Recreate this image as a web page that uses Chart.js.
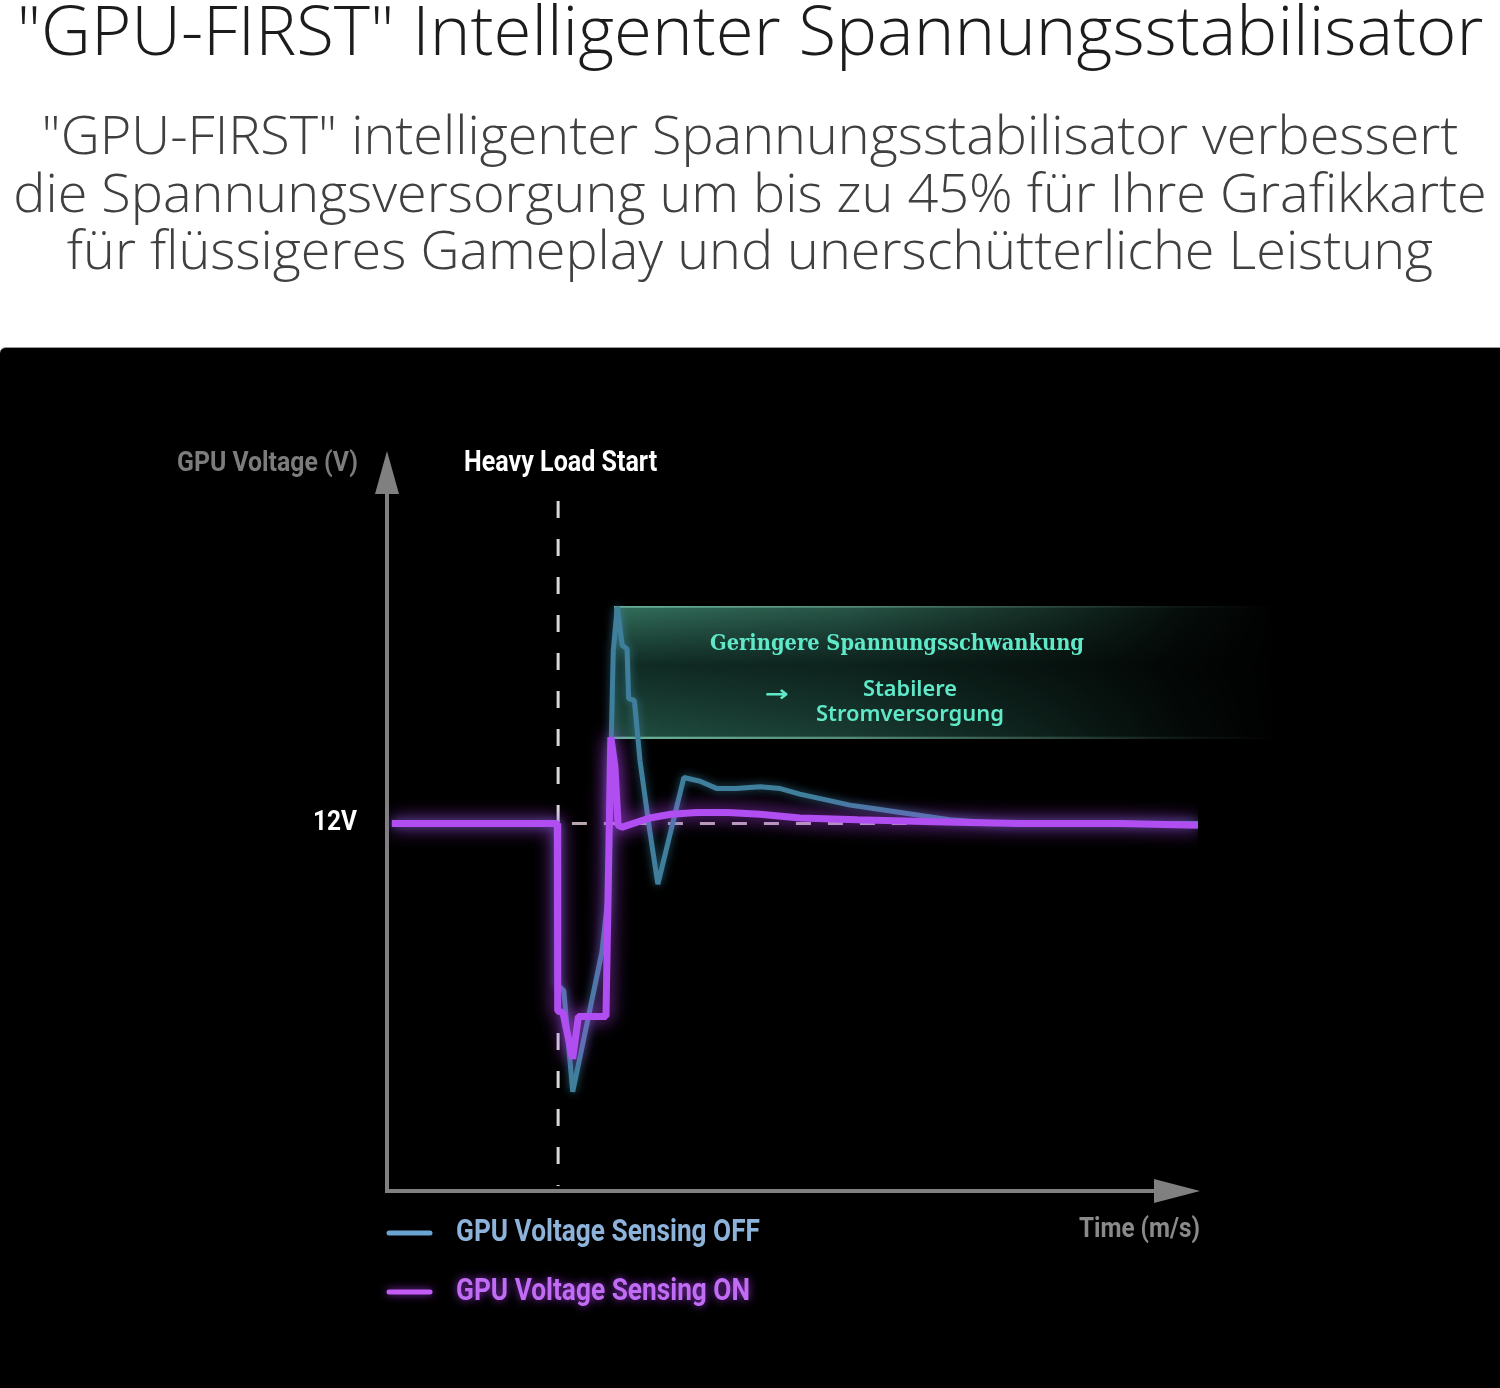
<!DOCTYPE html>
<html>
<head>
<meta charset="utf-8">
<script src="https://cdn.jsdelivr.net/npm/chart.js@4.4.1/dist/chart.umd.min.js"></script>
<style>
  html, body { margin: 0; padding: 0; background: #fff; width: 1500px; height: 1388px; overflow: hidden; }
  #title { position: absolute; left: 0; top: -6px; width: 1500px; text-align: center;
           font-family: "Open Sans", "Noto Sans", sans-serif; font-weight: 300; font-size: 69px;
           line-height: 1; color: #1c1c1c; white-space: nowrap; }
  #subtitle { position: absolute; left: 0; top: 105px; width: 1500px; text-align: center;
           font-family: "Open Sans", "Noto Sans", sans-serif; font-weight: 300; font-size: 54px;
           line-height: 57.5px; color: #404040; white-space: nowrap; }
  #panel { position: absolute; left: 0; top: 347px; width: 1500px; height: 1041px; background: #000;
           border-top: 1px solid #9a9a9a; box-sizing: border-box; border-top-left-radius: 6px; }
  #chart { position: absolute; left: 0; top: 0; }
</style>
</head>
<body>
<div id="title">"GPU-FIRST" Intelligenter Spannungsstabilisator</div>
<div id="subtitle">"GPU-FIRST" intelligenter Spannungsstabilisator verbessert<br>die Spannungsversorgung um bis zu 45% für Ihre Grafikkarte<br>für flüssigeres Gameplay und unerschütterliche Leistung</div>
<div id="panel"><canvas id="chart" width="1500" height="1040"></canvas></div>
<script>
// ---------- DATA ----------
const seriesLabels = ['GPU Voltage Sensing OFF', 'GPU Voltage Sensing ON'];
const timeOff = [0.6, 21.0, 21.05, 21.8, 22.9, 26.5, 27.2, 27.9, 28.4, 29.0, 29.6, 29.8, 30.5, 31.2, 32.4, 33.4, 36.6, 38.6, 40.7, 43.0, 46.0, 48.5, 50.9, 54.0, 57.1, 60.2, 63.3, 66.4, 69.4, 75.6, 100];
const voltOff = [12.0, 12.0, 11.12, 11.09, 10.54, 11.30, 11.58, 12.94, 13.18, 12.97, 12.95, 12.68, 12.67, 12.34, 11.96, 11.67, 12.25, 12.23, 12.19, 12.19, 12.20, 12.19, 12.16, 12.13, 12.10, 12.08, 12.06, 12.04, 12.02, 12.0, 12.0];
const timeOn = [0.6, 21.0, 21.05, 21.7, 22.9, 23.6, 27.0, 27.6, 28.1, 28.5, 29.0, 32.4, 35.0, 38.2, 42.0, 46.0, 50.9, 58.0, 67.3, 78.0, 90.4, 100];
const voltOn = [12.0, 12.0, 10.98, 10.97, 10.72, 10.95, 10.95, 12.47, 12.31, 11.99, 11.98, 12.03, 12.05, 12.06, 12.06, 12.05, 12.03, 12.02, 12.01, 12.0, 12.0, 11.99];
const nominalVoltage = 12;
const loadStartTime = 21.1;
const yTickLabels = ['12V'];
const yAxisTitle = 'GPU Voltage (V)';
const xAxisTitle = 'Time (m/s)';
const loadStartLabel = 'Heavy Load Start';
const boxTitle = 'Geringere Spannungsschwankung';
const boxLines = ['Stabilere', 'Stromversorgung'];

// ---------- HELPERS ----------
function fitText(ctx, text, x, y, font, color, targetW, align, glow) {
  ctx.save();
  ctx.font = font;
  ctx.fillStyle = color;
  ctx.textBaseline = 'middle';
  ctx.textAlign = 'left';
  const w = ctx.measureText(text).width;
  const sx = targetW / w;
  let x0 = x;
  if (align === 'right') x0 = x - targetW;
  else if (align === 'center') x0 = x - targetW / 2;
  if (glow) { ctx.shadowColor = glow; ctx.shadowBlur = 8; }
  ctx.translate(x0, y);
  ctx.scale(sx, 1);
  ctx.fillText(text, 0, 0);
  ctx.restore();
}

const colors = {
  off: '#3f7f9c', offGlow: 'rgba(70,150,190,0.6)', offLegend: '#6aa4d2', offText: '#8db3da',
  on: '#b14ef2', onGlow: 'rgba(190,70,255,0.95)', onText: '#c06cf3'
};

function drawBox(ctx, bx, by1, bxr, by2) {
  const w = Math.ceil(bxr - bx), h = Math.ceil(by2 - by1) + 2;
  const off = document.createElement('canvas');
  off.width = w; off.height = h;
  const o = off.getContext('2d');
  // vertical colour profile
  const gv = o.createLinearGradient(0, 0, 0, h);
  gv.addColorStop(0, 'rgba(60,130,108,0.95)');
  gv.addColorStop(0.45, 'rgba(22,58,48,0.85)');
  gv.addColorStop(1, 'rgba(40,96,80,0.9)');
  o.fillStyle = gv;
  o.fillRect(0, 1, w, h - 2);
  // border lines
  o.fillStyle = 'rgba(120,200,170,1)';
  o.fillRect(0, 0, w, 2);
  o.fillRect(0, h - 2, w, 2);
  // horizontal fade mask
  o.globalCompositeOperation = 'destination-in';
  const gm = o.createLinearGradient(0, 0, w, 0);
  gm.addColorStop(0, 'rgba(0,0,0,0.9)');
  gm.addColorStop(0.35, 'rgba(0,0,0,0.7)');
  gm.addColorStop(0.65, 'rgba(0,0,0,0.38)');
  gm.addColorStop(0.85, 'rgba(0,0,0,0.12)');
  gm.addColorStop(1, 'rgba(0,0,0,0)');
  o.fillStyle = gm;
  o.fillRect(0, 0, w, h);
  ctx.drawImage(off, bx, by1 - 1);
}

const decoPlugin = {
  id: 'deco',
  beforeDatasetsDraw(chart) {
    const { ctx, chartArea: a, scales: { x, y } } = chart;
    ctx.save();
    // annotation box (between peak of OFF and peak of ON)
    const peakOffIdx = voltOff.indexOf(Math.max(...voltOff));
    const bx = x.getPixelForValue(timeOff[peakOffIdx]) - 3;
    const by1 = y.getPixelForValue(Math.max(...voltOff));
    const by2 = y.getPixelForValue(Math.max(...voltOn));
    drawBox(ctx, bx, by1, a.right + 80, by2);

    // vertical dashed "heavy load start"
    const lx = x.getPixelForValue(loadStartTime);
    ctx.strokeStyle = '#d8d8d8';
    ctx.lineWidth = 3;
    ctx.setLineDash([17, 21]);
    ctx.beginPath();
    ctx.moveTo(lx, a.top + 45);
    ctx.lineTo(lx, a.bottom - 5);
    ctx.stroke();
    // horizontal dashed nominal line
    const ny = y.getPixelForValue(nominalVoltage);
    ctx.strokeStyle = '#b8a8b0';
    ctx.setLineDash([15, 17]);
    ctx.beginPath();
    ctx.moveTo(x.getPixelForValue(loadStartTime + 1.7), ny);
    ctx.lineTo(a.right, ny);
    ctx.stroke();
    ctx.setLineDash([]);

    // axes with arrows
    ctx.strokeStyle = '#808080';
    ctx.fillStyle = '#808080';
    ctx.lineWidth = 4;
    ctx.beginPath();
    ctx.moveTo(a.left, a.bottom);
    ctx.lineTo(a.left, a.top + 30);
    ctx.moveTo(a.left - 2, a.bottom);
    ctx.lineTo(a.right - 40, a.bottom);
    ctx.stroke();
    ctx.beginPath();
    ctx.moveTo(a.left, a.top - 5);
    ctx.lineTo(a.left - 12, a.top + 38);
    ctx.lineTo(a.left + 12, a.top + 38);
    ctx.closePath();
    ctx.fill();
    ctx.beginPath();
    ctx.moveTo(a.right + 2, a.bottom);
    ctx.lineTo(a.right - 44, a.bottom - 12);
    ctx.lineTo(a.right - 44, a.bottom + 12);
    ctx.closePath();
    ctx.fill();
    ctx.restore();
  },
  beforeDatasetDraw(chart, args) {
    const ctx = chart.ctx;
    ctx.save();
    ctx.shadowColor = args.index === 0 ? colors.offGlow : colors.onGlow;
    ctx.shadowBlur = args.index === 0 ? 8 : 18;
  },
  afterDatasetDraw(chart) {
    chart.ctx.restore();
  },
  afterDraw(chart) {
    const { ctx, chartArea: a, scales: { x, y } } = chart;
    const cond = '"Roboto", sans-serif';
    // axis texts
    fitText(ctx, yAxisTitle, a.left - 29, a.top + 8, 'bold 28px ' + cond, '#7c7c7c', 181, 'right');
    fitText(ctx, loadStartLabel, x.getPixelForValue(loadStartTime) - 94, a.top + 8, 'bold 29px ' + cond, '#ffffff', 193, 'left');
    fitText(ctx, yTickLabels[0], a.left - 30, y.getPixelForValue(nominalVoltage) - 1, 'bold 28px ' + cond, '#ffffff', 44, 'right');
    fitText(ctx, xAxisTitle, a.right + 2, a.bottom + 39, 'bold 28px ' + cond, '#8a8a8a', 121, 'right');

    // legend
    const items = [
      { label: seriesLabels[0], line: colors.offLegend, text: colors.offText, glow: null, y: a.bottom + 42 },
      { label: seriesLabels[1], line: '#c25cf5', text: colors.onText, glow: 'rgba(170,60,240,0.8)', y: a.bottom + 101 }
    ];
    items.forEach(it => {
      ctx.save();
      ctx.strokeStyle = it.line;
      ctx.lineWidth = 5;
      ctx.lineCap = 'round';
      if (it.glow) { ctx.shadowColor = it.glow; ctx.shadowBlur = 8; }
      ctx.beginPath();
      ctx.moveTo(a.left + 2, it.y);
      ctx.lineTo(a.left + 43, it.y);
      ctx.stroke();
      ctx.restore();
      fitText(ctx, it.label, a.left + 69, it.y, 'bold 31px ' + cond, it.text, it.label.endsWith('OFF') ? 304 : 294, 'left', it.glow);
    });

    // annotation box texts
    const by1 = y.getPixelForValue(Math.max(...voltOff));
    const teal = '#5fe9c9';
    fitText(ctx, boxTitle, 897, by1 + 37, 'bold 23px "DejaVu Serif", serif', teal, 374, 'center');
    fitText(ctx, boxLines[0], 910, by1 + 83, '600 21px "Noto Sans", sans-serif', teal, 94, 'center');
    fitText(ctx, boxLines[1], 910, by1 + 108, '600 21px "Noto Sans", sans-serif', teal, 188, 'center');
    fitText(ctx, '\u2192', 777, by1 + 89, 'bold 22px "DejaVu Sans", sans-serif', teal, 24, 'center');
  }
};

const chart = new Chart(document.getElementById('chart'), {
  type: 'line',
  data: {
    datasets: [
      { label: seriesLabels[0], data: timeOff.map((t, i) => ({ x: t, y: voltOff[i] })),
        borderColor: colors.off, borderWidth: 5, pointRadius: 0, tension: 0, borderJoinStyle: 'bevel', order: 2 },
      { label: seriesLabels[1], data: timeOn.map((t, i) => ({ x: t, y: voltOn[i] })),
        borderColor: colors.on, borderWidth: 7, pointRadius: 0, tension: 0, borderJoinStyle: 'bevel', order: 1 }
    ]
  },
  options: {
    responsive: false,
    animation: false,
    devicePixelRatio: 1,
    layout: { padding: { left: 387, right: 302, top: 108, bottom: 197 } },
    scales: {
      x: { type: 'linear', min: 0, max: 100, display: false },
      y: { type: 'linear', min: 10, max: 14, display: false }
    },
    plugins: { legend: { display: false }, tooltip: { enabled: false }, title: { display: false } }
  },
  plugins: [decoPlugin]
});
</script>
</body>
</html>
